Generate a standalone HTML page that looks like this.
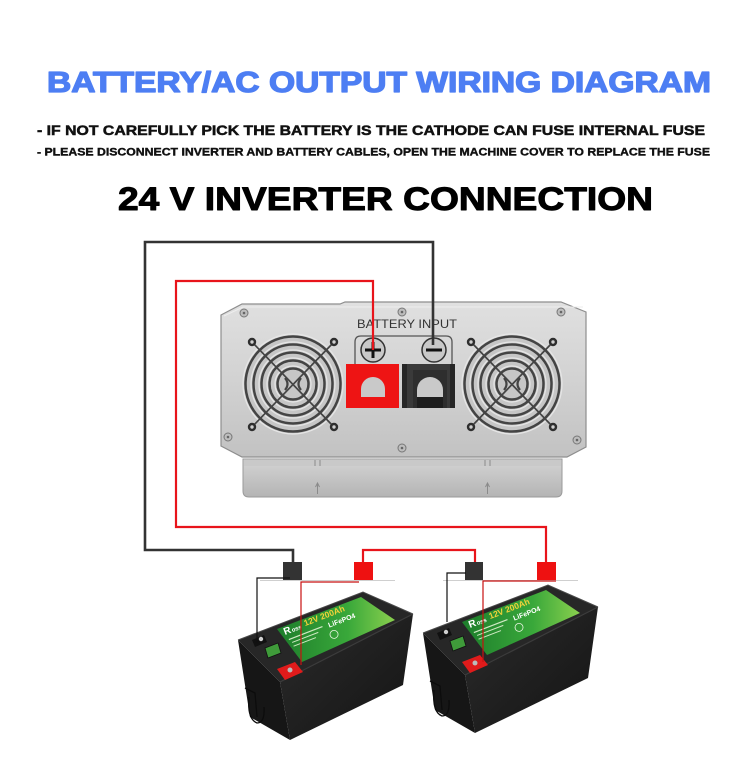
<!DOCTYPE html>
<html><head><meta charset="utf-8"><style>
html,body{margin:0;padding:0;background:#fff;}
svg{display:block;}
</style></head><body>
<svg width="750" height="763" viewBox="0 0 750 763" xmlns="http://www.w3.org/2000/svg">
<defs>
<linearGradient id="plate" x1="0" y1="0" x2="0" y2="1">
<stop offset="0" stop-color="#e0e0e0"/><stop offset="0.5" stop-color="#d2d2d2"/><stop offset="1" stop-color="#c2c2c2"/>
</linearGradient>
<linearGradient id="brk" x1="0" y1="0" x2="0" y2="1">
<stop offset="0" stop-color="#d4d4d4"/><stop offset="1" stop-color="#b4b4b4"/>
</linearGradient>
<linearGradient id="lbl" x1="0" y1="0" x2="1" y2="0">
<stop offset="0" stop-color="#1d7d2b"/><stop offset="0.6" stop-color="#39a83a"/><stop offset="1" stop-color="#8ad04e"/>
</linearGradient>
<linearGradient id="front" x1="0" y1="0" x2="1" y2="1">
<stop offset="0" stop-color="#2b2b2b"/><stop offset="1" stop-color="#141414"/>
</linearGradient>
</defs>
<rect width="750" height="763" fill="#fff"/>

<!-- Titles -->
<text x="47" y="92" font-family="Liberation Sans, sans-serif" font-weight="bold" font-size="28.5" fill="#4d7ef3" stroke="#4d7ef3" stroke-width="1.3" stroke-linejoin="round" textLength="664" lengthAdjust="spacingAndGlyphs">BATTERY/AC OUTPUT WIRING DIAGRAM</text>
<text x="37" y="135" font-family="Liberation Sans, sans-serif" font-weight="bold" font-size="13.5" fill="#111" stroke="#111" stroke-width="0.5" textLength="668" lengthAdjust="spacingAndGlyphs">- IF NOT CAREFULLY PICK THE BATTERY IS THE CATHODE CAN FUSE INTERNAL FUSE</text>
<text x="37" y="155.5" font-family="Liberation Sans, sans-serif" font-weight="bold" font-size="11" fill="#111" stroke="#111" stroke-width="0.4" textLength="673" lengthAdjust="spacingAndGlyphs">- PLEASE DISCONNECT INVERTER AND BATTERY CABLES, OPEN THE MACHINE COVER TO REPLACE THE FUSE</text>
<text x="118" y="210" font-family="Liberation Sans, sans-serif" font-weight="bold" font-size="32" fill="#000" stroke="#000" stroke-width="1" stroke-linejoin="round" textLength="535" lengthAdjust="spacingAndGlyphs">24 V INVERTER CONNECTION</text>

<!-- Inverter bracket -->
<path d="M243,459 H562 V491 Q562,497 556,497 H249 Q243,497 243,491 Z" fill="url(#brk)" stroke="#9a9a9a" stroke-width="1"/>
<rect x="244" y="460" width="317" height="6" fill="#c9c9c9"/>
<g stroke="#8a8a8a" stroke-width="1" fill="none">
<path d="M315,460 V466 M320,460 V466 M485,460 V466 M490,460 V466"/>
<path d="M317.5,494 V484 M315.5,487 L317.5,483 L319.5,487"/>
<path d="M487.5,494 V484 M485.5,487 L487.5,483 L489.5,487"/>
</g>

<!-- Inverter plate -->
<path d="M221,315 L242,304 L340,304 L345,302 L561,302 L586,312 L586,447 L567,457 L242,457 L221,446 Z" fill="url(#plate)" stroke="#8e8e8e" stroke-width="1.2"/>
<path d="M224,316 L243,307 L583,307" fill="none" stroke="#eeeeee" stroke-width="1"/>

<!-- Plate screws -->
<g fill="#bdbdbd" stroke="#777" stroke-width="1">
<circle cx="244" cy="313" r="4"/><circle cx="402" cy="312" r="4"/><circle cx="561" cy="312" r="4"/>
<circle cx="228" cy="437" r="4"/><circle cx="402" cy="448" r="4"/><circle cx="577" cy="440" r="4"/>
</g>
<g fill="#666">
<circle cx="244" cy="313" r="1.3"/><circle cx="402" cy="312" r="1.3"/><circle cx="561" cy="312" r="1.3"/>
<circle cx="228" cy="437" r="1.3"/><circle cx="402" cy="448" r="1.3"/><circle cx="577" cy="440" r="1.3"/>
</g>

<!-- Fans -->
<g id="fanL">
<circle cx="293" cy="384" r="49" fill="#c6c6c6"/>
<g fill="none" stroke="#e6e6e6" stroke-width="1.2">
<circle cx="293" cy="384" r="50"/><circle cx="293" cy="384" r="42"/><circle cx="293" cy="384" r="34"/><circle cx="293" cy="384" r="26"/><circle cx="293" cy="384" r="18"/>
</g>
<g fill="none" stroke="#444" stroke-width="2.5">
<circle cx="293" cy="384" r="47.5"/><circle cx="293" cy="384" r="39.5"/><circle cx="293" cy="384" r="31.5"/><circle cx="293" cy="384" r="23.5"/><circle cx="293" cy="384" r="15.5"/>
</g>
<path d="M285,378 Q290,384 285,390 M301,378 Q296,384 301,390" fill="none" stroke="#444" stroke-width="2.2"/>
<path d="M252,342 L334,427 M334,342 L252,427" stroke="#444" stroke-width="1.7"/>
<g fill="#2e2e2e"><circle cx="252" cy="342" r="4.2"/><circle cx="334" cy="342" r="4.2"/><circle cx="252" cy="427" r="4.2"/><circle cx="334" cy="427" r="4.2"/></g>
<g fill="#cfcfcf"><circle cx="252" cy="342" r="1.7"/><circle cx="334" cy="342" r="1.7"/><circle cx="252" cy="427" r="1.7"/><circle cx="334" cy="427" r="1.7"/></g>
</g>
<use href="#fanL" transform="translate(219,0)"/>

<!-- Terminal area -->
<path d="M355,364 V342 Q355,336 361,336 H446 Q452,336 452,342 V364" fill="none" stroke="#555" stroke-width="1.3"/>
<circle cx="373" cy="350" r="12" fill="#c8c8c8" stroke="#333" stroke-width="1.5"/>
<path d="M365,350 H381 M373,342 V358" stroke="#111" stroke-width="3"/>
<circle cx="434" cy="350" r="12" fill="#c8c8c8" stroke="#333" stroke-width="1.5"/>
<path d="M426,350 H442" stroke="#111" stroke-width="3"/>
<rect x="346" y="364" width="53" height="44" fill="#ee1414"/>
<path d="M361,397 V389 A12,12 0 0 1 385,389 V397 Z" fill="#c9c9c9"/>
<rect x="402" y="364" width="53" height="44" fill="#3a3a3a"/>
<rect x="402" y="364" width="5" height="44" fill="#262626"/>
<rect x="450" y="364" width="5" height="44" fill="#262626"/>
<rect x="413" y="370" width="34" height="38" fill="#2e2e2e"/>
<path d="M417,397 V390 A13,13 0 0 1 443,390 V397 Z" fill="#c9c9c9"/>
<rect x="417" y="397" width="26" height="11" fill="#1e1e1e"/>
<text x="357" y="328" font-family="Liberation Sans, sans-serif" font-size="11.5" fill="#333" textLength="100" lengthAdjust="spacingAndGlyphs">BATTERY INPUT</text>

<!-- Main wires -->
<path d="M433,345 V242 H145 V550 H293 V562" fill="none" stroke="#333" stroke-width="2.6"/>
<path d="M373,350 V281 H176 V527 H546 V562" fill="none" stroke="#e8141b" stroke-width="2.2"/>
<path d="M363,562 V550 H475 V562" fill="none" stroke="#e8141b" stroke-width="2.2"/>

<!-- shelf lines -->
<path d="M260,580.5 H395 M443,580.5 H578" stroke="#cfcfcf" stroke-width="1"/>

<!-- Batteries -->
<g id="bat">
<polygon points="423,633 465,675 475,733 435,710" fill="#161616"/>
<polygon points="465,675 598,607 588,678 475,733" fill="url(#front)"/>
<polygon points="423,633 548,585 598,607 465,675" fill="#272727"/>
<polyline points="423,633 548,585 598,607" fill="none" stroke="#4a4a4a" stroke-width="1"/>
<line x1="465" y1="675" x2="598" y2="607" stroke="#3c3c3c" stroke-width="1.2"/>
<polygon points="462,622 546,590 580,613 487,655" fill="url(#lbl)"/>
<g transform="translate(470,628) rotate(-21)">
<text x="0" y="0" font-family="Liberation Sans, sans-serif" font-weight="bold" font-size="10" fill="#fff">R</text>
<text x="8" y="0" font-family="Liberation Sans, sans-serif" font-weight="bold" font-size="6" fill="#fff">oss</text>
<text x="22" y="-1" font-family="Liberation Sans, sans-serif" font-weight="bold" font-size="8.5" fill="#f2d23a">12V 200Ah</text>
<text x="44" y="9" font-family="Liberation Sans, sans-serif" font-weight="bold" font-size="7" fill="#fff">LiFePO4</text>
<rect x="2" y="5" width="36" height="1.2" fill="#cfe9c3"/>
<rect x="4" y="9" width="28" height="1" fill="#cfe9c3"/>
<rect x="4" y="13" width="24" height="1" fill="#cfe9c3"/>
<circle cx="46" cy="17" r="4" fill="none" stroke="#e8f5e0" stroke-width="0.8"/>
</g>
<polygon points="450,641 463,636 466,646 453,651" fill="#3f9b3a" stroke="#111" stroke-width="0.8"/>
<polygon points="462,662 480,655 488,665 470,673" fill="#e01b1b"/>
<circle cx="475" cy="663" r="2.5" fill="#bbb"/>
<polygon points="437,633 449,628 452,635 440,640" fill="#111"/>
<circle cx="446" cy="632" r="2.2" fill="#cfcfcf"/>
<path d="M430,681 L440,686 L442,710 M434,690 Q432,712 442,716 Q450,716 449,700" fill="none" stroke="#0c0c0c" stroke-width="1.3"/>
</g>
<use href="#bat" transform="translate(-185,7)"/>

<!-- Terminal blocks -->
<rect x="283" y="562" width="19" height="18" fill="#333"/>
<rect x="354" y="562" width="19" height="18" fill="#ee1111"/>
<rect x="465" y="562" width="18" height="18" fill="#333"/>
<rect x="537" y="562" width="19" height="18" fill="#ee1111"/>

<!-- thin wires -->
<path d="M290,578 H257 V643" fill="none" stroke="#111" stroke-width="1.2"/>
<path d="M359,582 H301 V665" fill="none" stroke="#c81010" stroke-width="1.2"/>
<path d="M466,573 H447 V622" fill="none" stroke="#111" stroke-width="1.2"/>
<path d="M556,581 H483 V662" fill="none" stroke="#c81010" stroke-width="1.2"/>
</svg>
</body></html>
